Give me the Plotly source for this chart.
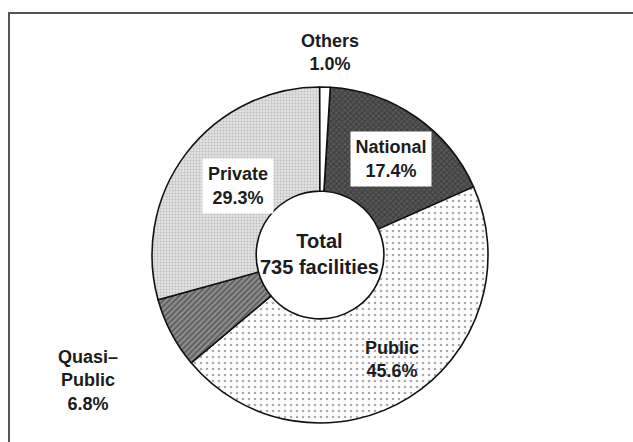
import plotly.graph_objects as go

# Facilities by operator type (share of total, %), clockwise from 12 o'clock
categories = ["National", "Public", "Quasi-Public", "Private", "Others"]
shares = [17.4, 45.6, 6.8, 29.3, 1.0]
label_lines = {
    "National": ["National"],
    "Public": ["Public"],
    "Quasi-Public": ["Quasi–", "Public"],
    "Private": ["Private"],
    "Others": ["Others"],
}
total_facilities = 735

W, H = 633, 442

# Monochrome fills: background colour + pattern per operator type
fill_bg = ["#575757", "#ffffff", "#8e8e8e", "#e2e2e2", "#ffffff"]
fill_fg = ["#1e1e1e", "#555555", "#262626", "#9a9a9a", "#ffffff"]
fill_shape = ["x", ".", "/", ".", ""]
fill_size = [4, 6, 4, 3, 6]
fill_solid = [0.45, 0.15, 0.45, 0.35, 0.1]


def px(x, y):
    return x / W, 1 - y / H


cx, cy, r = 320, 255, 168
x0, _ = px(cx - r, 0)
x1, _ = px(cx + r, 0)
_, y1 = px(0, cy - r)
_, y0 = px(0, cy + r)

fig = go.Figure(
    go.Pie(
        labels=categories,
        values=shares,
        sort=False,
        direction="clockwise",
        rotation=3.5,
        hole=0.38,
        textinfo="none",
        hoverinfo="label+percent",
        domain=dict(x=[x0, x1], y=[y0, y1]),
        marker=dict(
            colors=fill_bg,
            line=dict(color="#111111", width=1.6),
            pattern=dict(
                shape=fill_shape,
                fgcolor=fill_fg,
                bgcolor=fill_bg,
                size=fill_size,
                solidity=fill_solid,
                fillmode="overlay",
            ),
        ),
        showlegend=False,
    )
)

font = dict(family="Liberation Sans, Arial, sans-serif", size=18,
            color="#1c1c1c", weight="bold")

# label anchor points (px) and optional white boxes
label_pos = {
    "National": (391, 159, 80, 54),
    "Public": (392, 359, None, None),
    "Quasi-Public": (88, 380, None, None),
    "Private": (238, 186, 70, 54),
    "Others": (330, 52, None, None),
}

annotations = []
for cat, val in zip(categories, shares):
    x, y, bw, bh = label_pos[cat]
    ax, ay = px(x, y)
    text = "<br>".join(label_lines[cat] + [f"{val:.1f}%"])
    ann = dict(x=ax, y=ay, xref="paper", yref="paper", text=text,
               showarrow=False, font=font, align="center",
               xanchor="center", yanchor="middle")
    if bw:
        ann.update(bgcolor="#ffffff", width=bw, height=bh, borderpad=0)
    annotations.append(ann)

tx, ty = px(319, 254)
annotations.append(dict(
    x=tx, y=ty, xref="paper", yref="paper",
    text=f"Total<br>{total_facilities} facilities",
    showarrow=False, font=dict(font, size=20), align="center",
    xanchor="center", yanchor="middle"))

# frame: top and left rules
fx, fy = px(9, 13)
fig.add_shape(type="path", xref="paper", yref="paper",
              path=f"M {fx} 0 L {fx} {fy} L 1.01 {fy}",
              line=dict(color="#555555", width=2))

fig.update_layout(
    width=W, height=H,
    margin=dict(l=0, r=0, t=0, b=0),
    paper_bgcolor="#ffffff",
    plot_bgcolor="#ffffff",
    annotations=annotations,
)

fig.write_html("out.html")
